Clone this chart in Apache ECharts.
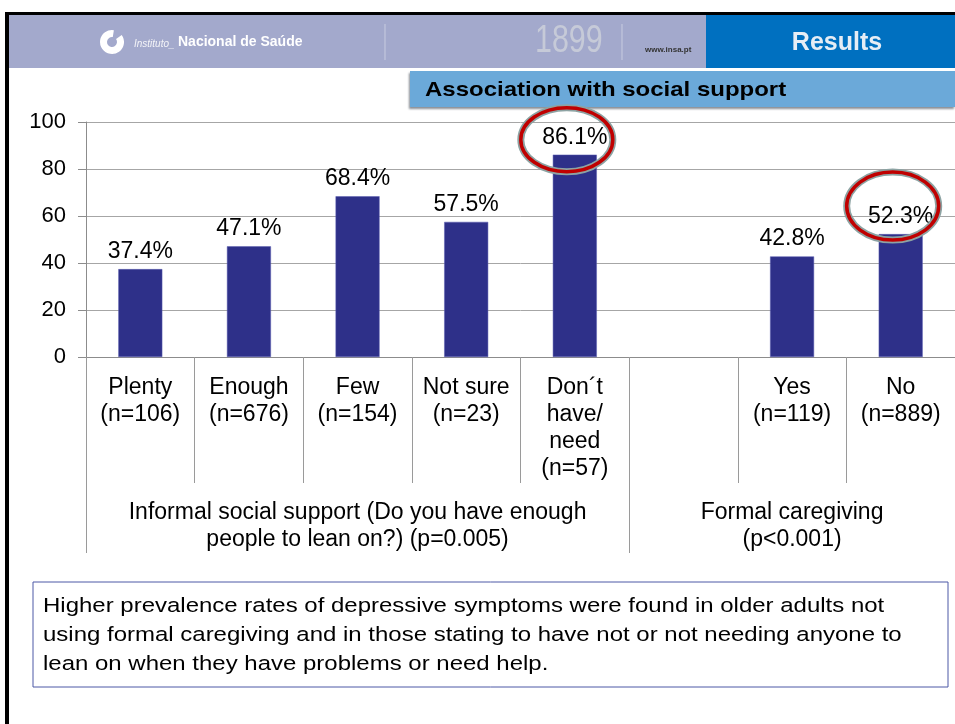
<!DOCTYPE html>
<html>
<head>
<meta charset="utf-8">
<script src="https://cdn.jsdelivr.net/npm/echarts@6/dist/echarts.min.js"></script>
<style>
  html, body { margin: 0; padding: 0; background: #fff; }
  #chart { width: 955px; height: 724px; }
</style>
</head>
<body>
<div id="chart"></div>
<script>
// categories along the x axis (the empty one is the gap between the two groups)
const categories = [
  "Plenty\n(n=106)",
  "Enough\n(n=676)",
  "Few\n(n=154)",
  "Not sure\n(n=23)",
  "Don´t\nhave/\nneed\n(n=57)",
  "",
  "Yes\n(n=119)",
  "No\n(n=889)"
]
// % with depressive symptoms
const values = [37.4, 47.1, 68.4, 57.5, 86.1, null, 42.8, 52.3]
// groups: first category index and number of categories
const groupNames = [
  "Informal social support (Do you have enough\npeople to lean on?) (p=0.005)",
  "Formal caregiving\n(p<0.001)"
]
const groupStart = [0, 5]
const groupSize = [5, 3]
// highlighted bars (circled in red)
const circled = [4, 7]
const yTicks = [0, 20, 40, 60, 80, 100]
const note = "Higher prevalence rates of depressive symptoms were found in older adults not\nusing formal caregiving and in those stating to have not or not needing anyone to\nlean on when they have problems or need help."

const FONT = "'Liberation Sans', Arial, sans-serif"

// second axis: group name at the middle category of each group
const groupAxis = categories.map(() => "")
groupNames.forEach((g, i) => {
  groupAxis[groupStart[i] + Math.floor(groupSize[i] / 2)] = g
})

const chart = echarts.init(document.getElementById("chart"))

// slide decorations (header, banner, note box)
const decor = [
  { type: "rect", shape: { x: 9, y: 15, width: 700, height: 53 }, style: { fill: "#a3a9cc" } },
  { type: "rect", shape: { x: 706, y: 15, width: 249, height: 53 }, style: { fill: "#0070c0" } },
  { type: "line", shape: { x1: 385, y1: 24, x2: 385, y2: 60 }, style: { stroke: "#c8cce0", lineWidth: 1 } },
  { type: "line", shape: { x1: 622, y1: 24, x2: 622, y2: 60 }, style: { stroke: "#c8cce0", lineWidth: 1 } },
  { type: "sector", shape: { cx: 112, cy: 42, r: 12, r0: 5, startAngle: -Math.PI * 0.2, endAngle: Math.PI * 1.55, clockwise: true }, style: { fill: "#ffffff" } },
  { type: "text", x: 134, y: 44, style: { text: "Instituto_", font: "italic 10px " + FONT, fill: "#f4f4f8", verticalAlign: "middle" } },
  { type: "text", x: 178, y: 42, style: { text: "Nacional de Saúde", font: "bold 14px " + FONT, fill: "#ffffff", verticalAlign: "middle" } },
  { type: "text", x: 535, y: 42, scaleX: 0.8, style: { text: "1899", font: "38px " + FONT, fill: "#c6cad8", verticalAlign: "middle" } },
  { type: "text", x: 645, y: 50, style: { text: "www.insa.pt", font: "bold 8px " + FONT, fill: "#333333", verticalAlign: "middle" } },
  { type: "text", x: 837, y: 43, style: { text: "Results", font: "bold 25px " + FONT, fill: "#e6edf5", align: "center", verticalAlign: "middle" } },
  { type: "rect", shape: { x: 410, y: 71, width: 545, height: 36 }, style: { fill: "#6ba9d9", shadowBlur: 2, shadowColor: "#8a8f96", shadowOffsetX: -1, shadowOffsetY: 2 } },
  { type: "text", x: 425, y: 90, scaleX: 1.17, style: { text: "Association with social support", font: "bold 20.5px " + FONT, fill: "#000000", verticalAlign: "middle" } },
  { type: "rect", shape: { x: 33, y: 582, width: 915, height: 105 }, style: { fill: "#ffffff", stroke: "#4d58a6", lineWidth: 1 } },
  { type: "text", x: 43, y: 592, scaleX: 1.17, style: { text: note, font: "20.5px " + FONT, lineHeight: 29, fill: "#000000" } },
  { type: "rect", shape: { x: 5, y: 12, width: 950, height: 3 }, style: { fill: "#000000" } },
  { type: "rect", shape: { x: 5, y: 12, width: 4, height: 712 }, style: { fill: "#000000" } }
]

chart.setOption({
  animation: false,
  grid: { left: 86, right: 0, top: 122, bottom: 367 },
  xAxis: [
    {
      type: "category",
      data: categories,
      axisLine: { show: true, lineStyle: { color: "#8c8c8c" } },
      axisTick: { show: true, length: 126, interval: 0, lineStyle: { color: "#9a9a9a" } },
      axisLabel: { interval: 0, margin: 17, color: "#000", fontFamily: FONT, fontSize: 23, lineHeight: 27 }
    },
    {
      type: "category",
      data: groupAxis,
      position: "bottom",
      axisLine: { show: false },
      axisTick: {
        show: true,
        length: 196,
        interval: idx => groupStart.includes(idx),
        lineStyle: { color: "#9a9a9a" }
      },
      axisLabel: { interval: 0, margin: 142, color: "#000", fontFamily: FONT, fontSize: 23, lineHeight: 27 }
    }
  ],
  yAxis: {
    type: "value",
    min: yTicks[0],
    max: yTicks[yTicks.length - 1],
    interval: yTicks[1] - yTicks[0],
    axisLine: { show: true, lineStyle: { color: "#8c8c8c" } },
    axisTick: { show: true, length: 8, lineStyle: { color: "#8c8c8c" } },
    axisLabel: { margin: 20, color: "#000", fontFamily: FONT, fontSize: 22 },
    splitLine: { lineStyle: { color: "#a6a6a6" } }
  },
  series: [
    {
      type: "bar",
      data: values,
      barWidth: 44,
      itemStyle: { color: "#2e3089", borderColor: "#5a5cb0", borderWidth: 0.5 },
      label: {
        show: true,
        position: "top",
        distance: 6,
        formatter: p => p.value + "%",
        color: "#000",
        fontFamily: FONT,
        fontSize: 23
      }
    }
  ],
  graphic: decor
})

// red circles around the highlighted values, anchored to the bars
const rings = []
circled.forEach((idx, k) => {
  const top = chart.convertToPixel({ seriesIndex: 0 }, [idx, values[idx]])
  const cx = top[0] - 8
  const cy = k === 0 ? top[1] - 15 : top[1] - 28
  const shape = { cx: cx, cy: cy, rx: 46, ry: k === 0 ? 32 : 34 }
  rings.push({ type: "ellipse", shape: shape, z: 100, style: { fill: null, stroke: "#8da3a3", lineWidth: 7 } })
  rings.push({ type: "ellipse", shape: shape, z: 101, style: { fill: null, stroke: "#c00000", lineWidth: 3.5 } })
})
chart.setOption({ graphic: decor.concat(rings) })
</script>
</body>
</html>
